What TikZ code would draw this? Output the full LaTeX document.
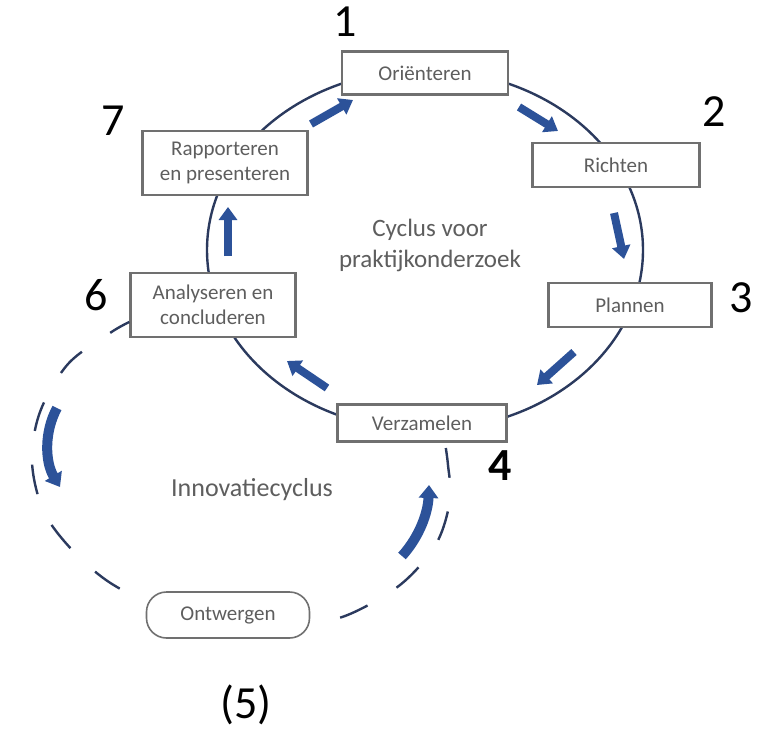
\documentclass[tikz,border=0pt]{standalone}
\usepackage{fontspec}
\setmainfont{Carlito}
\usetikzlibrary{arrows.meta}
\definecolor{navy}{HTML}{2B3A5E}
\definecolor{arrowblue}{HTML}{2C5299}
\definecolor{boxgray}{HTML}{707070}
\definecolor{txtgray}{HTML}{5E5E5E}
\begin{document}
\begin{tikzpicture}[x=1pt,y=-1pt,
  stepbox/.style={draw=boxgray, line width=2.4pt, fill=white, text=txtgray,
    font=\fontsize{21}{25}\selectfont, align=center, inner sep=0pt},
  pillbox/.style={draw=boxgray, line width=1.6pt, fill=white, text=txtgray,
    rounded corners=20pt, font=\fontsize{21}{25}\selectfont, inner sep=0pt},
  num/.style={font=\fontsize{46}{50}\selectfont, text=black, inner sep=0pt},
  cyc/.style={line width=8pt, arrowblue, -{Triangle[width=18pt,length=13pt]}},
  inno/.style={line width=10pt, arrowblue, -{Triangle[width=19pt,length=13pt]}},
  ring/.style={navy, line width=2.4pt},
  label/.style={text=txtgray, align=center, inner sep=0pt}
]
\useasboundingbox (0,0) rectangle (758,731);
\fill[white] (0,0) rectangle (758,731);

% main cycle ellipse
\draw[ring] (425,250) ellipse [x radius=218pt, y radius=180pt];

% boxes
\node[stepbox, minimum width=166pt, minimum height=43pt] (ori) at (425,73) {Oriënteren};
\node[stepbox, minimum width=167pt, minimum height=44pt] (ric) at (616,165) {Richten};
\node[stepbox, minimum width=163pt, minimum height=44pt] (pla) at (630,305) {Plannen};
\node[stepbox, minimum width=169pt, minimum height=37pt] (ver) at (422,423) {Verzamelen};
\node[stepbox, minimum width=165pt, minimum height=64pt] (ana) at (213,305) {Analyseren en\\concluderen};
\node[stepbox, minimum width=165pt, minimum height=64pt] (rap) at (225,163) {Rapporteren\\en presenteren};

% innovation cycle (dashed)
\coordinate (is) at ([yshift=-17pt]ana.west);
\coordinate (ie) at ([xshift=23pt]ver.south);
\draw[ring, dash pattern=on 30pt off 34pt, dash phase=8pt]
  plot[smooth, tension=0.55] coordinates {(is) (110,333) (68,364) (40,412) (32,462) (44,512) (74,552) (112,584) (160,606) (230,620) (300,622) (345,616) (400,585) (436,544) (450,500) (448,465) (ie)};
\node[pillbox, minimum width=163pt, minimum height=46pt] (ont) at (228,615) {Ontwergen};

% cycle arrows
\draw[cyc] (519,107) -- (558,131);
\draw[cyc] (614,213) -- (624,259);
\draw[cyc] (574,352) -- (537,385);
\draw[cyc] (327,388) -- (287,361);
\draw[cyc] (228,256) -- (228,207);
\draw[cyc] (311,124) -- (353,100);

% innovation arrows
\draw[inno] (57,408) .. controls (44,432) and (45,462) .. (60,487);
\draw[inno] (402,556) .. controls (420,536) and (428,512) .. (429,485);

% texts
\node[label, font=\fontsize{25}{31}\selectfont] (cyctxt) at (430,245) {Cyclus voor\\praktijkonderzoek};
\node[label, font=\fontsize{26}{30}\selectfont] (inntxt) at (252,490) {Innovatiecyclus};

% numbers
\node[num] (n1) at (345,22) {1};
\node[num] (n2) at (714,112) {2};
\node[num] (n3) at (741,298) {3};
\node[num, font=\fontsize{46}{50}\selectfont\bfseries] (n4) at (500,466) {4};
\node[num] (n5) at (246,705) {(5)};
\node[num] (n6) at (96,295) {6};
\node[num] (n7) at (113,121) {7};
\end{tikzpicture}
\end{document}
